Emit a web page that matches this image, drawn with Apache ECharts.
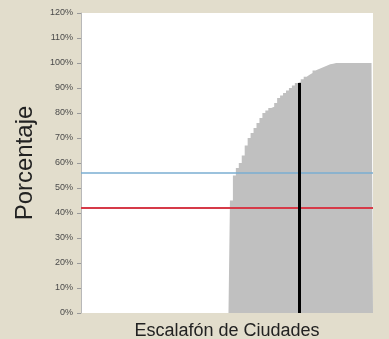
<!DOCTYPE html>
<html>
<head>
<meta charset="utf-8">
<script src="https://cdn.jsdelivr.net/npm/echarts@6/dist/echarts.min.js"></script>
<style>
html,body{margin:0;padding:0;background:#e2ddcc;}
#c{width:389px;height:339px;}
</style>
</head>
<body>
<div id="c"></div>
<script>
// City ranking positions 1..100
var categories = [];
for (var k = 1; k <= 100; k++) categories.push(String(k));

// Percentage per city (sorted), cities with no value = 0
var values = [
  0,0,0,0,0,0,0,0,0,0,
  0,0,0,0,0,0,0,0,0,0,
  0,0,0,0,0,0,0,0,0,0,
  0,0,0,0,0,0,0,0,0,0,
  0,0,0,0,0,0,0,0,0,0,
  0,45,55,58,60,63,67,70,72,74,
  76,78,80,81,82,82.5,84,86,87,88,
  89,90,91,92,92.5,93.5,94.5,95.3,96,97,
  97.5,98,98.5,99,99.5,99.7,100,100,100,100,
  100,100,100,100,100,100,100,100,100,100
];

var yTicks = [0,10,20,30,40,50,60,70,80,90,100,110,120];
var markerCity = 74;      // index of highlighted city
var markerValue = 92;     // its percentage
var blueLevel = 56;
var redLevel = 42;

var chart = echarts.init(document.getElementById('c'), null, {renderer:'canvas'});
chart.setOption({
  backgroundColor: '#e2ddcc',
  animation: false,
  grid: {left: 81, right: 16, top: 13, bottom: 26, outerBoundsMode: 'none', containLabel: false,
         show: true, backgroundColor: '#ffffff', borderWidth: 0},
  xAxis: {
    type: 'category',
    data: categories,
    boundaryGap: false,
    name: 'Escalafón de Ciudades',
    nameLocation: 'middle',
    nameGap: 9,
    nameTextStyle: {fontFamily: 'Liberation Sans, Arial', fontSize: 18, color: '#222'},
    axisLine: {show: false},
    axisTick: {show: false},
    axisLabel: {show: false},
    splitLine: {show: false}
  },
  yAxis: {
    type: 'value',
    min: yTicks[0],
    max: yTicks[yTicks.length-1],
    interval: 10,
    name: 'Porcentaje',
    nameLocation: 'middle',
    nameGap: 44,
    nameTextStyle: {fontFamily: 'Liberation Sans, Arial', fontSize: 24, color: '#222'},
    axisLine: {show: true, lineStyle: {color: '#b8b8b8', width: 1}},
    axisTick: {show: true, length: 4, lineStyle: {color: '#999'}},
    axisLabel: {formatter: '{value}%', fontFamily: 'Liberation Sans, Arial', fontSize: 9, color: '#4a4a4a', margin: 8},
    splitLine: {show: false}
  },
  series: [{
    type: 'line',
    data: values,
    step: 'middle',
    symbol: 'none',
    lineStyle: {width: 0, opacity: 0},
    areaStyle: {color: '#c0c0c0', opacity: 1},
    silent: true,
    markLine: {
      symbol: 'none',
      silent: true,
      label: {show: false},
      data: [
        {yAxis: blueLevel, lineStyle: {color: '#7aaed2', width: 1.5, type: 'solid', opacity: 1}},
        {yAxis: redLevel, lineStyle: {color: '#d63a48', width: 2, type: 'solid', opacity: 1}},
        [{coord: [markerCity, 0], lineStyle: {color: '#000', width: 3, type: 'solid', opacity: 1}},
         {coord: [markerCity, markerValue]}]
      ]
    }
  }]
});
</script>
</body>
</html>
